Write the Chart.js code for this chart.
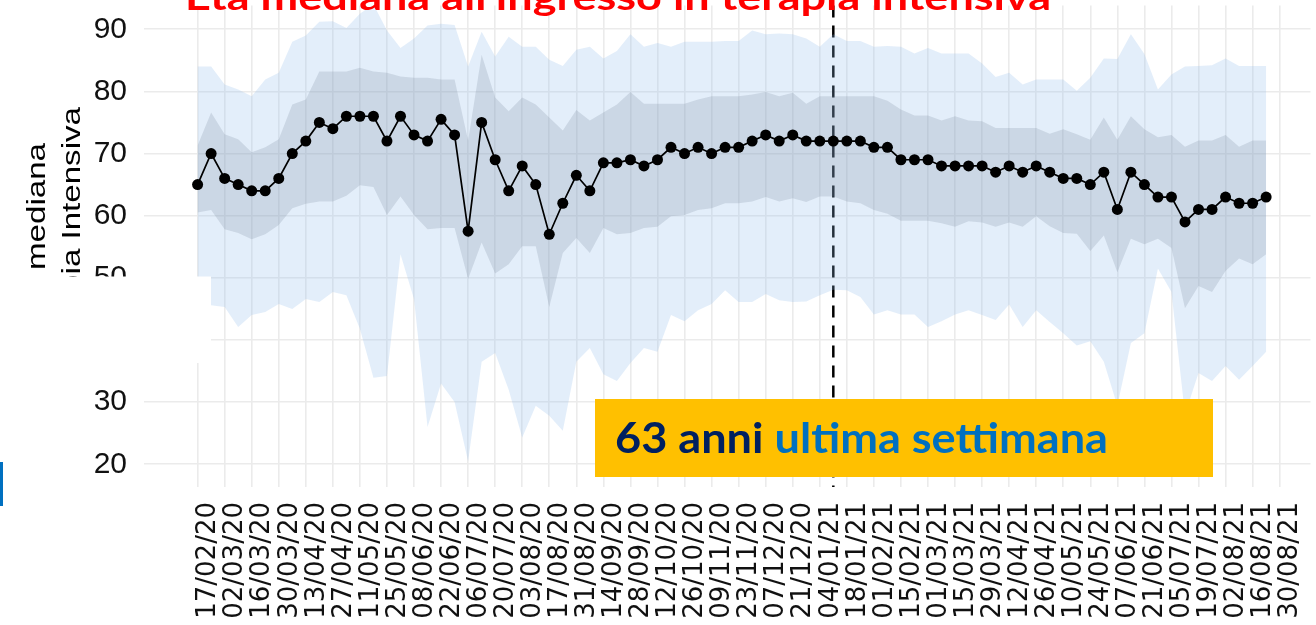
<!DOCTYPE html>
<html><head><meta charset="utf-8">
<script src="https://cdn.jsdelivr.net/npm/chart.js@4.4.0/dist/chart.umd.min.js"></script>
<style>html,body{margin:0;padding:0;background:#fff;overflow:hidden}canvas{display:block}</style>
</head><body>
<canvas id="c" width="1316" height="625"></canvas>
<script>
// ---- data ----
const weeks = ['17/02/20','24/02/20','02/03/20','09/03/20','16/03/20','23/03/20','30/03/20','06/04/20','13/04/20','20/04/20',
'27/04/20','04/05/20','11/05/20','18/05/20','25/05/20','01/06/20','08/06/20','15/06/20','22/06/20','29/06/20',
'06/07/20','13/07/20','20/07/20','27/07/20','03/08/20','10/08/20','17/08/20','24/08/20','31/08/20','07/09/20',
'14/09/20','21/09/20','28/09/20','05/10/20','12/10/20','19/10/20','26/10/20','02/11/20','09/11/20','16/11/20',
'23/11/20','30/11/20','07/12/20','14/12/20','21/12/20','28/12/20','04/01/21','11/01/21','18/01/21','25/01/21',
'01/02/21','08/02/21','15/02/21','22/02/21','01/03/21','08/03/21','15/03/21','22/03/21','29/03/21','05/04/21',
'12/04/21','19/04/21','26/04/21','03/05/21','10/05/21','17/05/21','24/05/21','31/05/21','07/06/21','14/06/21',
'21/06/21','28/06/21','05/07/21','12/07/21','19/07/21','26/07/21','02/08/21','09/08/21','16/08/21','23/08/21'];

const tickLabels = ['17/02/20','02/03/20','16/03/20','30/03/20','13/04/20','27/04/20','11/05/20','25/05/20','08/06/20','22/06/20',
'06/07/20','20/07/20','03/08/20','17/08/20','31/08/20','14/09/20','28/09/20','12/10/20','26/10/20','09/11/20',
'23/11/20','07/12/20','21/12/20','04/01/21','18/01/21','01/02/21','15/02/21','01/03/21','15/03/21','29/03/21',
'12/04/21','26/04/21','10/05/21','24/05/21','07/06/21','21/06/21','05/07/21','19/07/21','02/08/21','16/08/21','30/08/21'];

const yTicks = [20,30,40,50,60,70,80,90];

const median = [65,70,66,65,64,64,66,70,72,75, 74,76,76,76,72,76,73,72,75.5,73,
57.5,75,69,64,68,65,57,62,66.5,64, 68.5,68.5,69,68,69,71,70,71,70,71,
71,72,73,72,73,72,72,72,72,72, 71,71,69,69,69,68,68,68,68,67,
68,67,68,67,66,66,65,67,61,67, 65,63,63,59,61,61,63,62,62,63];

const iqrHigh = [71.3,76.6,73.1,72.3,70.2,71,72.3,77.9,78.7,83.2, 83.2,83.2,83.8,83.2,83,82.4,82.2,82.2,81.9,81.9,
72.1,85.9,79,76.8,79,77.9,75.8,73.7,77,75.3, 76.6,77.9,79.9,78,78,78,78,78.7,79.2,79.2,
79.2,79.5,79.9,79.2,79.8,78,79.2,79.2,79.2,79.2, 79.2,78.5,77.1,76.1,76.1,75.3,76,75.3,75.2,74.1,
74.1,74.1,74.1,73.2,73.9,73.1,72.2,75.8,72.2,76, 73.9,72.6,73,71.1,72.1,72.1,73,71.1,72.1,72.1];

const iqrLow = [60.5,60.9,57.8,57.2,56.2,57,58.5,61.2,61.9,62.3, 62.3,63.2,64.9,64.6,60.1,63.1,60.1,57.8,58,58,
49.8,55.7,50.7,52.2,55.1,55.1,45.3,54,56.4,54, 58,57,57.2,58,58.2,59.9,60.1,60.9,61.2,62,
62,62.3,63,62.3,62.8,62.2,63.1,63.1,62.3,62, 60.9,60.3,59.2,59.2,59.2,58.8,58.2,59.1,58.9,58.2,
58.9,58.2,59.9,58.3,57.2,57.1,54.3,56.8,50.9,56.3, 55.4,56.3,54.8,45.1,48.7,47.7,51.1,53.1,52.2,53.8];

const rangeHigh = [84,84,81.1,80.3,79.2,81.9,83,88,89,91.2, 91.3,90.2,92.5,94,89.8,87,88.5,90.6,90.9,90.7,
84,89.6,85.6,88.8,87.2,87.2,85.1,84.1,86.7,87.2, 85.3,86.5,89.2,87.2,87.8,87.2,88,88,88,88.1,
88.1,89.8,89.2,89.3,89.2,88.5,87.2,89.2,88.1,88.1, 87.2,87.3,87.2,86.1,87,86.1,86.1,86.1,84.5,82.3,
83,81.1,81.9,81.9,81.9,80.1,82.2,85.3,85.2,89.2, 86,80.3,82.7,84,84.1,84.2,85.3,84.1,84.1,84.1];

const rangeLow = [45,45.6,45.3,42.1,44,44.5,45.8,45,46.6,46.1, 47.7,47.2,41.8,33.9,34.2,53.8,46.6,26,33,30,
20.5,36.5,37.9,32,24.3,29.4,27.8,25.4,36.5,38.7, 34.5,33.4,36.3,38.7,38.1,44,43,44.8,45.8,48,
46.1,46.1,47.4,46.4,46.1,46.2,47.2,48.1,48,46.9, 44.1,44.8,44.1,44.1,42.1,43,44.1,44.8,44,43.2,
45.7,42.1,44.8,42.9,41.1,39.1,39.8,36.5,29.4,39.5, 41.1,51.5,47.7,28,34.7,33.4,35.8,33.6,35.8,38.1];

const markerWeek = '11/01/21';
const titleText = "Età mediana all'ingresso in terapia intensiva";
const yTitleLines = ['Età mediana', 'in terapia Intensiva'];
const boxTextA = '63 anni';
const boxTextB = 'ultima settimana';

// ---- chart ----
const pts = arr => arr.map((v, i) => ({x: i, y: v}));

const overlay = {
  id: 'overlay',
  beforeDatasetsDraw(chart) {
    const {ctx, chartArea, scales: {x}} = chart;
    const px = x.getPixelForValue(weeks.indexOf(markerWeek));
    ctx.save();
    ctx.strokeStyle = '#000';
    ctx.lineWidth = 2.5;
    ctx.setLineDash([12, 8]);
    ctx.beginPath();
    ctx.moveTo(px, chartArea.top);
    ctx.lineTo(px, chartArea.bottom);
    ctx.stroke();
    ctx.restore();
  },
  afterDraw(chart) {
    const ctx = chart.ctx;
    ctx.save();
    // y-axis title (rotated, partly hidden)
    ctx.fillStyle = '#000';
    ctx.font = '26px "Liberation Sans", Arial, sans-serif';
    const stretch = 127 / ctx.measureText('mediana').width;
    [[yTitleLines[0], 45, 143], [yTitleLines[1], 80, 107]].forEach(([t, bx, ey]) => {
      ctx.save();
      ctx.translate(bx, ey);
      ctx.rotate(-Math.PI / 2);
      ctx.scale(stretch, 1);
      ctx.textAlign = 'right';
      ctx.textBaseline = 'alphabetic';
      ctx.fillText(t, 0, 0);
      ctx.restore();
    });
    // white patch over the left part
    ctx.fillStyle = '#fff';
    ctx.fillRect(0, 276.5, 211, 86.5);
    ctx.fillRect(0, 362, 88, 36);
    // small blue bar at left edge
    ctx.fillStyle = '#0070C0';
    ctx.fillRect(0, 462, 3, 44);
    // red title (cut at top)
    ctx.font = 'bold 36px Lato, "Open Sans", sans-serif';
    const tw = ctx.measureText(titleText).width;
    ctx.save();
    ctx.translate(185, 10);
    ctx.scale(866 / tw, 1);
    ctx.fillStyle = '#FF0000';
    ctx.textAlign = 'left';
    ctx.textBaseline = 'alphabetic';
    ctx.fillText(titleText, 0, 0);
    ctx.restore();
    // yellow box
    ctx.fillStyle = '#FFC000';
    ctx.fillRect(595, 399, 618, 78);
    ctx.font = 'bold 42px Lato, "Open Sans", sans-serif';
    const wA = ctx.measureText(boxTextA + ' ').width;
    const wB = ctx.measureText(boxTextB).width;
    ctx.save();
    ctx.translate(615, 453);
    ctx.scale(493 / (wA + wB), 1);
    ctx.textAlign = 'left';
    ctx.textBaseline = 'alphabetic';
    ctx.fillStyle = '#002060';
    ctx.fillText(boxTextA, 0, 0);
    ctx.fillStyle = '#0070C0';
    ctx.fillText(boxTextB, wA, 0);
    ctx.restore();
    ctx.restore();
  }
};

new Chart(document.getElementById('c'), {
  type: 'line',
  data: {
    datasets: [
      {label: 'Età mediana', data: pts(median), borderColor: '#000', borderWidth: 1.7,
       pointRadius: 5.5, pointBackgroundColor: '#000', pointBorderWidth: 0, fill: false, order: 0},
      {label: 'IQR low', data: pts(iqrLow), borderColor: 'transparent', borderWidth: 0, pointRadius: 0, fill: false, order: 1},
      {label: 'IQR high', data: pts(iqrHigh), borderColor: 'transparent', borderWidth: 0, pointRadius: 0,
       fill: '-1', backgroundColor: 'rgba(110,125,145,0.2)', order: 2},
      {label: 'Range low', data: pts(rangeLow), borderColor: 'transparent', borderWidth: 0, pointRadius: 0, fill: false, order: 3},
      {label: 'Range high', data: pts(rangeHigh), borderColor: 'transparent', borderWidth: 0, pointRadius: 0,
       fill: '-1', backgroundColor: 'rgba(143,187,235,0.25)', order: 4}
    ]
  },
  options: {
    responsive: false,
    animation: false,
    devicePixelRatio: 1,
    layout: {padding: 0},
    elements: {line: {tension: 0}},
    plugins: {legend: {display: false}, tooltip: {enabled: false}},
    scales: {
      x: {
        type: 'linear', min: -4, max: 82.28,
        afterBuildTicks: s => { s.ticks = tickLabels.map((_, k) => ({value: 2 * k})); },
        afterFit: s => { s.height = 138; s.paddingLeft = 0; s.paddingRight = 0; },
        grid: {color: '#ebebeb', lineWidth: 1.6, drawTicks: false},
        border: {display: false},
        ticks: {autoSkip: false, minRotation: 90, maxRotation: 90, padding: 15, labelOffset: 11,
                color: '#111', font: {family: '"DejaVu Sans"', size: 26},
                callback: v => tickLabels[Math.round(v / 2)]}
      },
      y: {
        type: 'linear', min: 16.34, max: 93.82,
        afterBuildTicks: s => { s.ticks = yTicks.map(v => ({value: v})); },
        afterFit: s => { s.width = 143.5; s.paddingTop = 0; s.paddingBottom = 0; },
        grid: {color: '#ebebeb', lineWidth: 1.6, drawTicks: false},
        border: {display: false},
        ticks: {padding: 16.5, color: '#111', font: {family: '"Liberation Sans"', size: 30},
                callback: v => String(v)}
      }
    }
  },
  plugins: [overlay]
});
</script>
</body></html>
